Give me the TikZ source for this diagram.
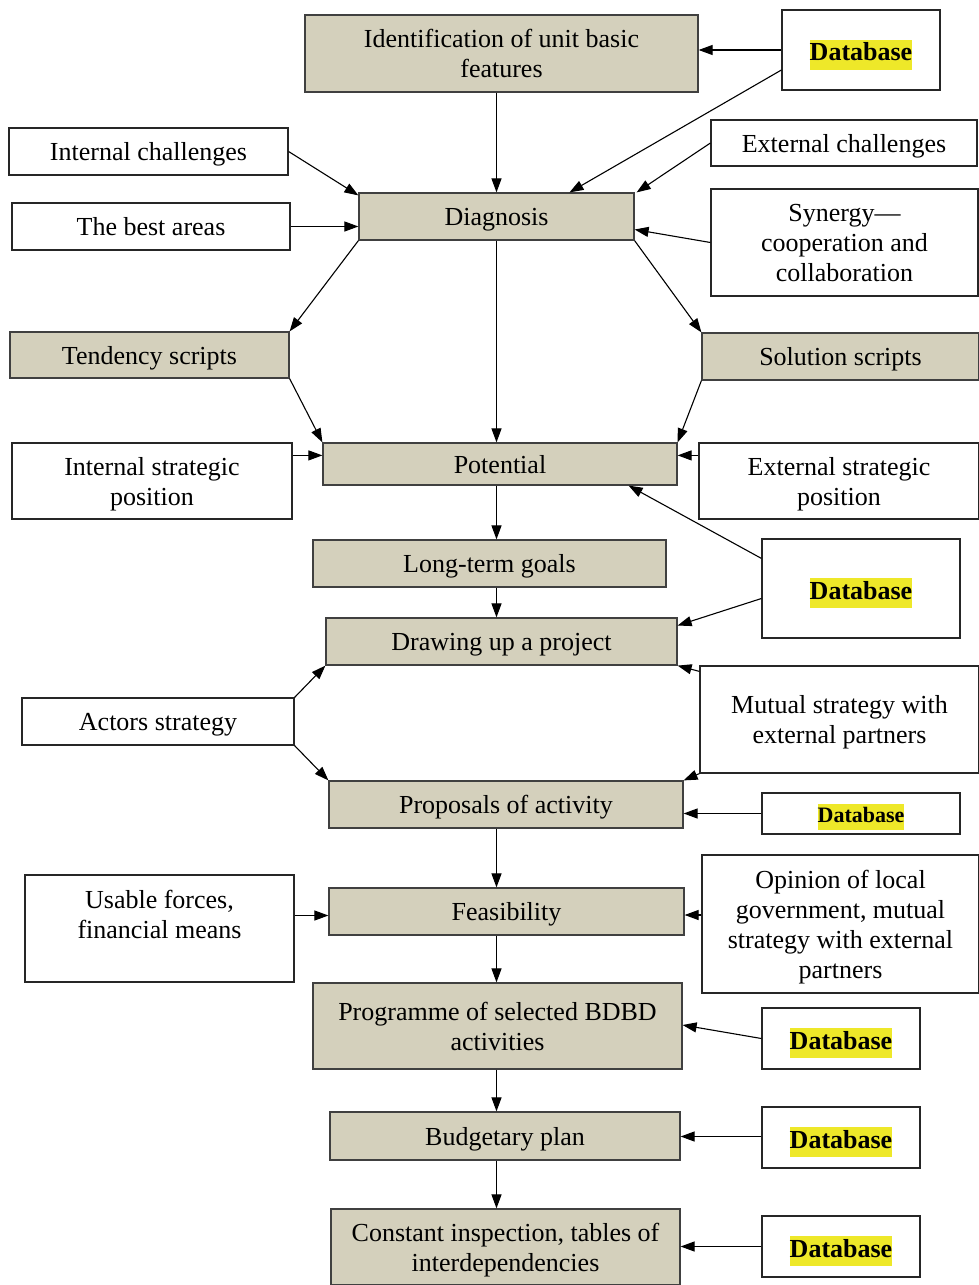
\documentclass[tikz,border=0pt]{standalone}
\usepackage{fontspec}
\setmainfont{Liberation Serif}
\usepackage{xcolor}
\usetikzlibrary{arrows.meta}
\definecolor{stagefill}{RGB}{212,208,188}
\definecolor{hilite}{RGB}{238,232,41}
\newcommand{\dbword}{{\setlength\fboxsep{0pt}\colorbox{hilite}{\strut\bfseries Database}}}
\tikzset{
  stage/.style={draw=black!75,line width=1.2pt,fill=stagefill,align=center,inner sep=2pt,text depth=0pt},
  input/.style={draw=black!85,line width=1.2pt,fill=white,align=center,inner sep=2pt,text depth=0pt},
  flow/.style={-{Triangle[length=14pt,width=10pt]},line width=1.1pt}
}
\begin{document}
\begin{tikzpicture}[x=1pt,y=-1pt,font=\fontsize{26}{30}\selectfont]
\useasboundingbox (0,0) rectangle (979,1285);
% main column
\node[stage,minimum width=393,minimum height=77] (ident) at (501.5,53.5) {Identification of unit basic\\features};
\node[stage,minimum width=275,minimum height=47] (diag) at (496.5,216.5) {Diagnosis};
\node[stage,minimum width=279,minimum height=46] (tend) at (149.5,355) {Tendency scripts};
\node[stage,minimum width=277,minimum height=47] (sol) at (840.5,356.5) {Solution scripts};
\node[stage,minimum width=354,minimum height=42] (pot) at (500,464) {Potential};
\node[stage,minimum width=353,minimum height=47] (goals) at (489.5,563.5) {Long-term goals};
\node[stage,minimum width=351,minimum height=47] (proj) at (501.5,641.5) {Drawing up a project};
\node[stage,minimum width=354,minimum height=47] (prop) at (506,804.5) {Proposals of activity};
\node[stage,minimum width=355,minimum height=47] (feas) at (506.5,911.5) {Feasibility};
\node[stage,minimum width=369,minimum height=86] (prog) at (497.5,1026) {Programme of selected BDBD\\activities};
\node[stage,minimum width=350,minimum height=48] (budget) at (505,1136) {Budgetary plan};
\node[stage,minimum width=349,minimum height=76] (insp) at (505.5,1247) {Constant inspection, tables of\\interdependencies};
% side inputs
\node[input,minimum width=158,minimum height=80] (dbA) at (861,50) {\dbword};
\node[input,minimum width=279,minimum height=47] (intch) at (148.5,151.5) {Internal challenges};
\node[input,minimum width=266,minimum height=46] (extch) at (844,143) {External challenges};
\node[input,minimum width=278,minimum height=47] (best) at (151,226.5) {The best areas};
\node[input,minimum width=267,minimum height=107] (syn) at (844.5,242.5) {Synergy---\\cooperation and\\collaboration};
\node[input,minimum width=280,minimum height=76] (intpos) at (152,481) {Internal strategic\\position};
\node[input,minimum width=280,minimum height=76] (extpos) at (839,481) {External strategic\\position};
\node[input,minimum width=198,minimum height=99] (dbB) at (861,588.5) {\dbword};
\node[input,minimum width=272,minimum height=47] (actors) at (158,721.5) {Actors strategy};
\node[input,minimum width=279,minimum height=107] (mutual) at (839.5,719.5) {Mutual strategy with\\external partners};
\node[input,minimum width=198,minimum height=41,font=\fontsize{22}{26}\selectfont] (dbC) at (861,813.5) {\dbword};
\node[input,minimum width=269,minimum height=107,text depth=29pt] (usable) at (159.5,928.5) {Usable forces,\\financial means};
\node[input,minimum width=277,minimum height=138] (opin) at (840.5,924) {Opinion of local\\government, mutual\\strategy with external\\partners};
\node[input,minimum width=158,minimum height=61] (dbD) at (841,1038.5) {\dbword};
\node[input,minimum width=158,minimum height=61] (dbE) at (841,1137.5) {\dbword};
\node[input,minimum width=158,minimum height=61] (dbF) at (841,1246.5) {\dbword};
% vertical flow
\draw[flow] (ident.south -| diag) -- (diag.north);
\draw[flow] (diag.south) -- (pot.north -| diag);
\draw[flow] (pot.south -| diag) -- (goals.north -| diag);
\draw[flow] (goals.south -| diag) -- (proj.north -| diag);
\draw[flow] (prop.south -| diag) -- (feas.north -| diag);
\draw[flow] (feas.south -| diag) -- (prog.north -| diag);
\draw[flow] (prog.south -| diag) -- (budget.north -| diag);
\draw[flow] (budget.south -| diag) -- (insp.north -| diag);
% inputs into diagnosis
\draw[flow] (dbA.west) -- (dbA.west -| ident.east);
\draw[flow] ([yshift=-20]dbA.west) -- ([xshift=73]diag.north);
\draw[flow] (intch.east) -- ([yshift=-3]diag.north west);
\draw[flow] (best.east) -- (best.east -| diag.west);
\draw[flow] (extch.west) -- ([xshift=2]diag.north east);
\draw[flow] (syn.west) -- ([yshift=-13]diag.east);
% scripts
\draw[flow] (diag.south west) -- (tend.north east);
\draw[flow] (diag.south east) -- (sol.north west);
\draw[flow] (tend.south east) -- (pot.north west);
\draw[flow] (sol.south west) -- (pot.north east);
\draw[flow] ([yshift=-13]intpos.north east) -- ([yshift=-13]pot.north west);
\draw[flow] ([yshift=-13]extpos.north west) -- ([yshift=-13]pot.north east);
% project stage
\draw[flow] ([yshift=-20]dbB.north west) -- ([xshift=-49]pot.south east);
\draw[flow] ([yshift=-10]dbB.west) -- ([yshift=16]proj.east);
\draw[flow] (actors.north east) -- (proj.south west);
\draw[flow] (actors.south east) -- (prop.north west);
\draw[flow] ([yshift=-6]mutual.north west) -- (proj.south east);
\draw[flow] (mutual.south west) -- (prop.north east);
\draw[flow] (dbC.west) -- (dbC.west -| prop.east);
% remaining inputs
\draw[flow] ([yshift=13]usable.east) -- ([yshift=13]usable.east -| feas.west);
\draw[flow] ([yshift=9]opin.west) -- ([yshift=9]opin.west -| feas.east);
\draw[flow] (dbD.west) -- ([yshift=1]prog.east);
\draw[flow] ([yshift=1]dbE.west) -- ([yshift=1]dbE.west -| budget.east);
\draw[flow] (dbF.west) -- (dbF.west -| insp.east);
\end{tikzpicture}
\end{document}
